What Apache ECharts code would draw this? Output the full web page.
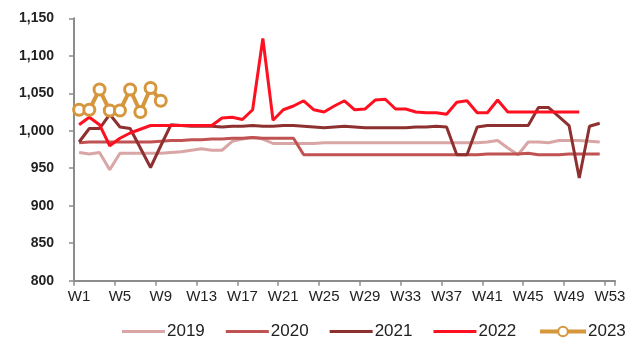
<!DOCTYPE html>
<html>
<head>
<meta charset="utf-8">
<script src="https://cdn.jsdelivr.net/npm/echarts@6/dist/echarts.min.js"></script>
<style>html,body{margin:0;padding:0;background:#fff;}#c{width:641px;height:340px;}</style>
</head>
<body>
<div id="c"></div>
<script>
var weeks = ['W1','W2','W3','W4','W5','W6','W7','W8','W9','W10','W11','W12','W13','W14','W15','W16','W17','W18','W19','W20','W21','W22','W23','W24','W25','W26','W27','W28','W29','W30','W31','W32','W33','W34','W35','W36','W37','W38','W39','W40','W41','W42','W43','W44','W45','W46','W47','W48','W49','W50','W51','W52','W53'];
var s2019 = [971,969,971,948,970,970,970,970,970,971,972,974,976,974,974,986,989,991,989,983,983,983,983,983,984,984,984,984,984,984,984,984,984,984,984,984,984,984,984,984,985,987,977,968,985,985,984,987,987,987,986,985];
var s2020 = [984,985,985,985,985,985,985,985,986,987,987,988,988,989,989,990,990,991,990,990,990,990,968,968,968,968,968,968,968,968,968,968,968,968,968,968,968,968,968,968,969,969,969,969,970,968,968,968,969,969,969,969];
var s2021 = [985,1003,1003,1022,1005,1003,977,951,980,1008,1007,1006,1006,1006,1005,1006,1006,1007,1006,1006,1007,1007,1006,1005,1004,1005,1006,1005,1004,1004,1004,1004,1004,1005,1005,1006,1005,968,968,1005,1007,1007,1007,1007,1007,1031,1031,1019,1007,937,1006,1010];
var s2022 = [1008,1018,1008,980,990,997,1002,1007,1007,1007,1007,1007,1007,1007,1017,1018,1015,1028,1123,1014,1028,1033,1040,1028,1025,1033,1040,1028,1029,1041,1042,1029,1029,1025,1024,1024,1022,1038,1040,1024,1024,1041,1025,1025,1025,1025,1025,1025,1025,1025];
var s2023 = [1028,1028,1055,1027,1027,1055,1025,1057,1040];
var lineNames = ['2019','2020','2021','2022'];
var markerNames = ['2023'];

var chart = echarts.init(document.getElementById('c'), null, {renderer:'canvas'});
function lineSeries(name, data, color, width) {
  return {name:name, type:'line', data:data, symbol:'none', showSymbol:false,
    lineStyle:{color:color, width:width}, itemStyle:{color:color}, emphasis:{disabled:true}, animation:false};
}
var legendText = {fontFamily:'Liberation Sans, Arial', fontSize:17, color:'#222', padding:[0,0,0,-3]};
chart.setOption({
  animation:false,
  grid:{left:74, right:26, top:18.3, bottom:59.3, containLabel:false},
  legend:[
    {data:lineNames, icon:'rect', left:122, top:323, padding:0, itemWidth:43, itemHeight:3, itemGap:21, textStyle:legendText},
    {data:markerNames, left:538, top:323, padding:0, itemWidth:46, itemHeight:12, textStyle:legendText,
      lineStyle:{width:4, color:'#D6963C'}}
  ],
  xAxis:{
    type:'category', data:weeks, boundaryGap:true,
    axisLine:{lineStyle:{color:'#8c8c8c', width:2}},
    axisTick:{show:true, interval:3, length:5, lineStyle:{color:'#8c8c8c', width:1.5}},
    axisLabel:{interval:3, margin:9, fontFamily:'Liberation Sans, Arial', fontSize:15, color:'#222'},
    splitLine:{show:false}
  },
  yAxis:{
    type:'value', min:800, max:1150, interval:50,
    axisLine:{show:true, lineStyle:{color:'#8c8c8c', width:2}},
    axisTick:{show:true, length:5, lineStyle:{color:'#8c8c8c', width:1.5}},
    axisLabel:{margin:20, fontFamily:'Liberation Sans, Arial', fontWeight:'bold', fontSize:14, color:'#222',
      formatter:function(v){return v.toLocaleString('en-US');}},
    splitLine:{show:false}
  },
  series:[
    lineSeries('2019', s2019, '#D9A5A5', 3),
    lineSeries('2020', s2020, '#C05252', 3),
    lineSeries('2021', s2021, '#8F3030', 3),
    lineSeries('2022', s2022, '#FF1020', 3),
    {name:'2023', type:'line', data:s2023, symbol:'circle', symbolSize:11, showSymbol:true, showAllSymbol:true,
      lineStyle:{color:'#D6963C', width:4},
      itemStyle:{color:'#ffffff', borderColor:'#D6963C', borderWidth:3},
      emphasis:{disabled:true}, animation:false}
  ]
});
</script>
</body>
</html>
